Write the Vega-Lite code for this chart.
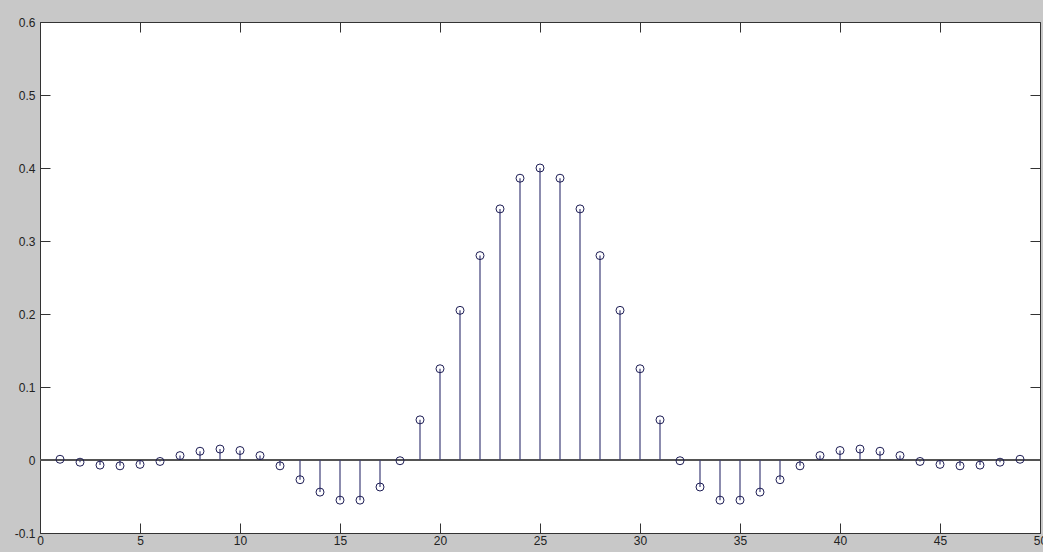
{
  "$schema": "https://vega.github.io/schema/vega-lite/v6.json",
  "width": 1000,
  "height": 511,
  "autosize": {"type": "none"},
  "padding": {"left": 40, "top": 22, "right": 3, "bottom": 19},
  "background": "#c8c8c8",
  "config": {
    "view": {"fill": "white", "stroke": "#333333", "strokeWidth": 1},
    "axis": {
      "grid": false,
      "domain": false,
      "tickColor": "#333333",
      "tickSize": -10,
      "tickWidth": 1,
      "labelFont": "Liberation Sans",
      "labelFontSize": 12,
      "labelColor": "#222222",
      "title": null
    }
  },
  "data": {
    "values": [
      {"n": 1, "v": 0.001}, {"n": 2, "v": -0.003}, {"n": 3, "v": -0.007}, {"n": 4, "v": -0.008},
      {"n": 5, "v": -0.006}, {"n": 6, "v": -0.002}, {"n": 7, "v": 0.006}, {"n": 8, "v": 0.012},
      {"n": 9, "v": 0.015}, {"n": 10, "v": 0.013}, {"n": 11, "v": 0.006}, {"n": 12, "v": -0.008},
      {"n": 13, "v": -0.027}, {"n": 14, "v": -0.044}, {"n": 15, "v": -0.055}, {"n": 16, "v": -0.055},
      {"n": 17, "v": -0.037}, {"n": 18, "v": -0.001}, {"n": 19, "v": 0.055}, {"n": 20, "v": 0.125},
      {"n": 21, "v": 0.205}, {"n": 22, "v": 0.28}, {"n": 23, "v": 0.344}, {"n": 24, "v": 0.386},
      {"n": 25, "v": 0.4}, {"n": 26, "v": 0.386}, {"n": 27, "v": 0.344}, {"n": 28, "v": 0.28},
      {"n": 29, "v": 0.205}, {"n": 30, "v": 0.125}, {"n": 31, "v": 0.055}, {"n": 32, "v": -0.001},
      {"n": 33, "v": -0.037}, {"n": 34, "v": -0.055}, {"n": 35, "v": -0.055}, {"n": 36, "v": -0.044},
      {"n": 37, "v": -0.027}, {"n": 38, "v": -0.008}, {"n": 39, "v": 0.006}, {"n": 40, "v": 0.013},
      {"n": 41, "v": 0.015}, {"n": 42, "v": 0.012}, {"n": 43, "v": 0.006}, {"n": 44, "v": -0.002},
      {"n": 45, "v": -0.006}, {"n": 46, "v": -0.008}, {"n": 47, "v": -0.007}, {"n": 48, "v": -0.003},
      {"n": 49, "v": 0.001}
    ]
  },
  "layer": [
    {
      "mark": {"type": "rule", "color": "#555555", "strokeWidth": 1.2},
      "encoding": {
        "y": {"datum": 0, "type": "quantitative", "scale": {"domain": [-0.1, 0.6], "nice": false}, "axis": null}
      }
    },
    {
      "mark": {"type": "rule", "color": "#3e3e78", "strokeWidth": 1.2},
      "encoding": {
        "x": {
          "field": "n", "type": "quantitative",
          "scale": {"domain": [0, 50], "nice": false, "zero": false},
          "axis": {"orient": "bottom", "values": [0, 5, 10, 15, 20, 25, 30, 35, 40, 45, 50], "labelPadding": 12, "labelFlush": false}
        },
        "y": {
          "field": "v", "type": "quantitative",
          "scale": {"domain": [-0.1, 0.6], "nice": false},
          "axis": {
            "orient": "left",
            "values": [-0.1, 0, 0.1, 0.2, 0.3, 0.4, 0.5, 0.6],
            "labelPadding": 15,
            "labelFlush": false,
            "labelExpr": "datum.value < 0 ? '-' + format(-datum.value, '.1~f') : format(datum.value, '.1~f')"
          }
        },
        "y2": {"datum": 0}
      }
    },
    {
      "mark": {"type": "point", "shape": "circle", "filled": false, "stroke": "#1e1e55", "strokeWidth": 1, "size": 64, "opacity": 1},
      "encoding": {
        "x": {
          "field": "n", "type": "quantitative",
          "axis": {"orient": "top", "values": [0, 5, 10, 15, 20, 25, 30, 35, 40, 45, 50], "labels": false}
        },
        "y": {
          "field": "v", "type": "quantitative",
          "axis": {"orient": "right", "values": [-0.1, 0, 0.1, 0.2, 0.3, 0.4, 0.5, 0.6], "labels": false}
        }
      }
    }
  ],
  "resolve": {"axis": {"x": "independent", "y": "independent"}}
}
